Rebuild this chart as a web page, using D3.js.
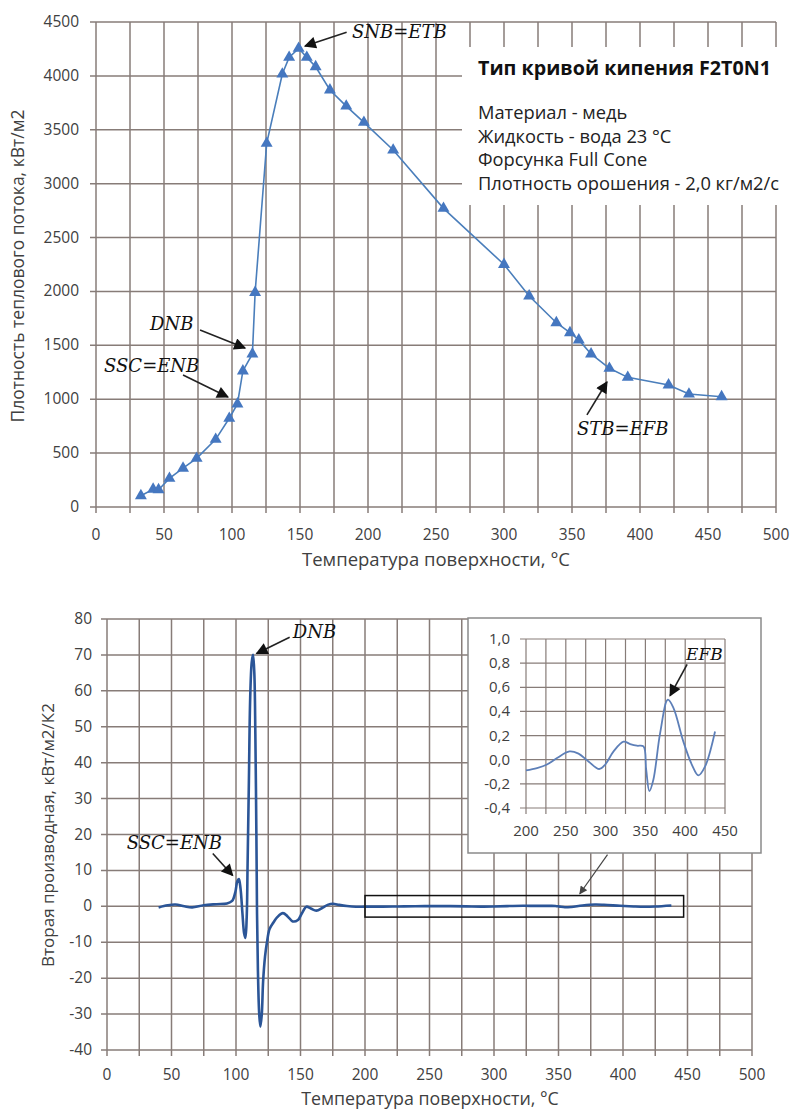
<!DOCTYPE html>
<html>
<head>
<meta charset="utf-8">
<script src="https://cdn.jsdelivr.net/npm/d3@7"></script>
<style>
  body { margin: 0; background: #fff; }
  text { font-family: "Open Sans", sans-serif; }
  text.note { font-family: "DejaVu Serif", serif; font-style: italic; }
</style>
</head>
<body>
<div id="chart"></div>
<script>
// --- top chart: boiling curve
let tempTop = [33, 42, 46, 54, 64, 74, 88, 98, 104, 108, 115, 117, 125.5, 137, 142, 149, 155, 161.5, 172, 184, 197, 218.5, 255.5, 300, 318.5, 338.5, 348.5, 355, 364, 377.5, 391, 421, 436, 460];
let fluxTop = [105, 165, 160, 266, 360, 452, 628, 823, 956, 1262, 1420, 1990, 3374, 4017, 4172, 4256, 4172, 4085, 3869, 3720, 3569, 3312, 2771, 2250, 1958, 1710, 1617, 1550, 1420, 1287, 1203, 1132, 1048, 1023];

// --- bottom chart: second derivative
let tempBot = [40, 47, 53, 60, 66, 75, 85, 93, 97, 99.5, 101, 102.2, 103.5, 105, 106.3, 107.3, 108.3, 109, 110, 111, 112.2, 113.2, 114.2, 115, 115.8, 116.3, 117, 118, 118.9, 120, 121, 122.5, 124, 126, 129, 132, 136.4, 140, 144, 148, 151, 154.6, 158, 162.3, 167, 171, 175.2, 180, 186, 193,
  200, 213.8, 226.3, 239, 254.7, 266, 278.5, 292, 299.5, 310, 322.5, 330.9, 339.3, 347.6, 351, 355, 360, 368.5, 378.2, 385.2, 397.7, 408.3, 416.6, 425, 437.5];
let derivBot = [-0.3, 0.3, 0.5, 0, -0.3, 0.3, 0.6, 0.8, 1.5, 4, 7, 7.6, 5, -2, -7.5, -8.8, -3, 12, 35, 58, 68, 70, 65, 48, 20, -2, -18, -30, -33.5, -30, -21, -14, -10, -6.3, -4.5, -3, -1.9, -2.8, -4.2, -3.8, -2, -0.1, -0.6, -1.2, -0.4, 0.4, 0.7, 0.4, 0.1, -0.1,
  -0.089, -0.069, -0.04, 0.014, 0.069, 0.05, -0.014, -0.077, -0.04, 0.069, 0.15, 0.13, 0.116, 0.11, -0.083, -0.26, -0.166, 0.22, 0.497, 0.43, 0.15, -0.04, -0.13, -0.056, 0.234];

// --- ticks
let xTickLabels = [0, 50, 100, 150, 200, 250, 300, 350, 400, 450, 500];
let xGridVals = [0, 25, 50, 75, 100, 125, 150, 175, 200, 225, 250, 275, 300, 325, 350, 375, 400, 425, 450, 475, 500];
let yTicksTop = [0, 500, 1000, 1500, 2000, 2500, 3000, 3500, 4000, 4500];
let yTicksBot = [-40, -30, -20, -10, 0, 10, 20, 30, 40, 50, 60, 70, 80];
let xTicksInset = [200, 250, 300, 350, 400, 450];
let xGridInset = [200, 225, 250, 275, 300, 325, 350, 375, 400, 425, 450];
let yTicksInset = [-0.4, -0.2, 0, 0.2, 0.4, 0.6, 0.8, 1.0];

let infoTitle = "Тип кривой кипения F2T0N1";
let infoLines = ["Материал - медь", "Жидкость - вода 23 °C", "Форсунка Full Cone", "Плотность орошения - 2,0 кг/м2/с"];

let gridColor = "#877c78";
let labelColor = "#404040";
let commaFmt = d3.formatLocale({decimal: ",", thousands: " ", grouping: [3], currency: ["", ""], minus: "-"}).format(".1f");

let svg = d3.select("#chart").append("svg")
    .attr("width", 804)
    .attr("height", 1111);

let defs = svg.append("defs");
function addHead(id, w, h, color) {
  defs.append("marker")
    .attr("id", id)
    .attr("viewBox", "0 0 10 10")
    .attr("refX", 9).attr("refY", 5)
    .attr("markerUnits", "userSpaceOnUse")
    .attr("markerWidth", w).attr("markerHeight", h)
    .attr("orient", "auto")
    .append("path").attr("d", "M0,0L10,5L0,10z").attr("fill", color);
}
addHead("head", 15, 12, "#111");
addHead("headSmall", 10, 8, "#444");

// grid + tick marks + tick labels for one panel
function drawFrame(g, x, y, xg, xl, yl, opt) {
  let [x0, x1] = x.range();
  let [y0, y1] = y.range();
  g.selectAll(".vg").data(xg).enter().append("line")
    .attr("x1", d => x(d)).attr("x2", d => x(d))
    .attr("y1", y1).attr("y2", y0 + 6)
    .attr("stroke", gridColor).attr("stroke-width", opt.sw);
  g.selectAll(".hg").data(yl).enter().append("line")
    .attr("x1", x0 - 6).attr("x2", x1)
    .attr("y1", d => y(d)).attr("y2", d => y(d))
    .attr("stroke", gridColor).attr("stroke-width", opt.sw);
  g.selectAll(".xl").data(xl).enter().append("text")
    .attr("x", d => x(d)).attr("y", y0 + opt.xOff)
    .attr("text-anchor", "middle")
    .attr("font-size", opt.fs).attr("fill", labelColor)
    .text(d => d);
  g.selectAll(".yl").data(yl).enter().append("text")
    .attr("x", x0 - opt.yOff).attr("y", d => y(d) + 5)
    .attr("text-anchor", "end")
    .attr("font-size", opt.fs).attr("fill", labelColor)
    .text(opt.fmt || (d => d));
}

function arrow(g, x, y, from, to, marker, color, w) {
  g.append("line")
    .attr("x1", x(from[0])).attr("y1", y(from[1]))
    .attr("x2", x(to[0])).attr("y2", y(to[1]))
    .attr("stroke", color).attr("stroke-width", w)
    .attr("marker-end", "url(#" + marker + ")");
}
function note(g, x, y, at, txt, size) {
  g.append("text")
    .attr("class", "note")
    .attr("x", x(at[0])).attr("y", y(at[1]))
    .attr("font-size", size).attr("fill", "#111")
    .text(txt);
}

// ================= TOP CHART =================
let xTop = d3.scaleLinear().domain([0, 500]).range([96, 776]);
let yTop = d3.scaleLinear().domain([0, 4500]).range([507, 22]);
let gTop = svg.append("g");
drawFrame(gTop, xTop, yTop, xGridVals, xTickLabels, yTicksTop, {sw: 1.5, fs: 15.5, xOff: 33, yOff: 17});

// info box hides the grid behind it
gTop.append("rect").attr("x", 462).attr("y", 47).attr("width", 340).attr("height", 158).attr("fill", "#fff");
gTop.append("text").attr("x", 478).attr("y", 75)
  .attr("font-size", 19.7).attr("font-weight", "bold").attr("fill", "#111")
  .text(infoTitle);
gTop.selectAll(".info").data(infoLines).enter().append("text")
  .attr("x", 478).attr("y", (d, i) => 119 + i * 23.5)
  .attr("font-size", 18.3).attr("fill", "#222")
  .text(d => d);

let topData = tempTop.map((t, i) => [t, fluxTop[i]]);
gTop.append("path").datum(topData)
  .attr("fill", "none").attr("stroke", "#4a7ebb").attr("stroke-width", 1.6)
  .attr("d", d3.line().x(d => xTop(d[0])).y(d => yTop(d[1])));
gTop.selectAll(".tri").data(topData).enter().append("path")
  .attr("transform", d => "translate(" + xTop(d[0]) + "," + yTop(d[1]) + ")")
  .attr("d", d3.symbol(d3.symbolTriangle, 62))
  .attr("fill", "#4577c0");

note(gTop, xTop, yTop, [188.2, 4351], "SNB=ETB", 18);
arrow(gTop, xTop, yTop, [184.3, 4404], [153.7, 4277], "head", "#222", 1.6);
note(gTop, xTop, yTop, [39.7, 1642], "DNB", 18);
arrow(gTop, xTop, yTop, [76.5, 1642], [109.6, 1475], "head", "#222", 1.6);
note(gTop, xTop, yTop, [5.9, 1253], "SSC=ENB", 18);
arrow(gTop, xTop, yTop, [64, 1225], [97, 1020], "head", "#222", 1.6);
note(gTop, xTop, yTop, [353.7, 668], "STB=EFB", 18);
arrow(gTop, xTop, yTop, [361, 854], [375.7, 1160], "head", "#222", 1.6);

gTop.append("text").attr("x", 436).attr("y", 566).attr("text-anchor", "middle")
  .attr("font-size", 18.5).attr("fill", labelColor).text("Температура поверхности, °С");
gTop.append("text").attr("transform", "translate(24,266) rotate(-90)").attr("text-anchor", "middle")
  .attr("font-size", 17.5).attr("fill", labelColor).text("Плотность теплового потока, кВт/м2");

// ================= BOTTOM CHART =================
let xBot = d3.scaleLinear().domain([0, 500]).range([107, 752]);
let yBot = d3.scaleLinear().domain([-40, 80]).range([1050, 619]);
let gBot = svg.append("g");
drawFrame(gBot, xBot, yBot, xGridVals, xTickLabels, yTicksBot, {sw: 1.5, fs: 15.5, xOff: 30, yOff: 15});

let botData = tempBot.map((t, i) => [t, derivBot[i]]);
let curve = d3.curveCatmullRom.alpha(0.5);
gBot.append("path").datum(botData)
  .attr("fill", "none").attr("stroke", "#2b5597").attr("stroke-width", 2.6)
  .attr("d", d3.line().curve(curve).x(d => xBot(d[0])).y(d => yBot(d[1])));

// box marking the zoomed range
gBot.append("rect")
  .attr("x", xBot(200)).attr("y", yBot(3))
  .attr("width", xBot(447) - xBot(200)).attr("height", yBot(-3) - yBot(3))
  .attr("fill", "none").attr("stroke", "#111").attr("stroke-width", 1.5);

note(gBot, xBot, yBot, [144, 74.6], "DNB", 18);
arrow(gBot, xBot, yBot, [141.6, 74.9], [116, 70.4], "head", "#222", 1.6);
note(gBot, xBot, yBot, [15.3, 16.1], "SSC=ENB", 18);
arrow(gBot, xBot, yBot, [82, 14.7], [97.4, 8.6], "head", "#222", 1.6);

gBot.append("text").attr("x", 430).attr("y", 1105).attr("text-anchor", "middle")
  .attr("font-size", 17.8).attr("fill", labelColor).text("Температура поверхности, °С");
gBot.append("text").attr("transform", "translate(54,835) rotate(-90)").attr("text-anchor", "middle")
  .attr("font-size", 17).attr("fill", labelColor).text("Вторая производная, кВт/м2/К2");

// ---- inset
let xIn = d3.scaleLinear().domain([200, 450]).range([526, 725]);
let yIn = d3.scaleLinear().domain([-0.4, 1.0]).range([808, 639]);
let gIn = svg.append("g");
gIn.append("rect").attr("x", 468).attr("y", 618).attr("width", 293).attr("height", 235)
  .attr("fill", "#fff").attr("stroke", "#8a8a8a").attr("stroke-width", 1.5);
drawFrame(gIn, xIn, yIn, xGridInset, xTicksInset, yTicksInset, {sw: 1.2, fs: 15, xOff: 28, yOff: 16, fmt: commaFmt});
gIn.append("path").datum(botData.filter(d => d[0] >= 200))
  .attr("fill", "none").attr("stroke", "#5d7fb8").attr("stroke-width", 1.8)
  .attr("d", d3.line().curve(curve).x(d => xIn(d[0])).y(d => yIn(d[1])));
note(gIn, xIn, yIn, [401, 0.83], "EFB", 17);
arrow(gIn, xIn, yIn, [402.4, 0.79], [381, 0.53], "head", "#222", 1.6);

// pointer from the box up to the inset
arrow(gBot, xBot, yBot, [388, 14.4], [366.5, 3.5], "headSmall", "#444", 1.2);
</script>
</body>
</html>
